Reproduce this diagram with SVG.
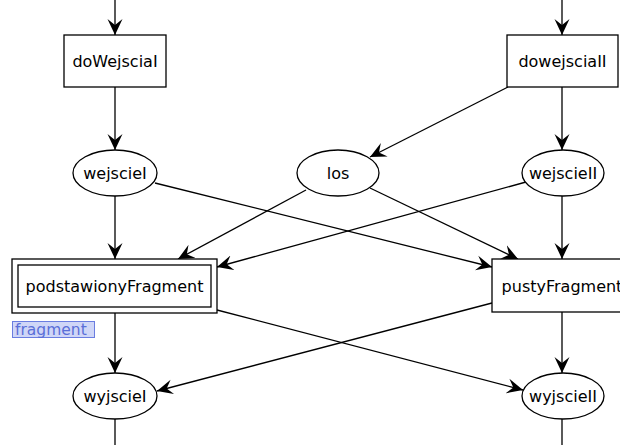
<svg xmlns="http://www.w3.org/2000/svg" width="620" height="445" viewBox="0 0 620 445">
  <style>
    .box { fill: #ffffff; stroke: #000000; stroke-width: 1.3; }
    .lbl { font-family: "DejaVu Sans", sans-serif; font-size: 16px; fill: #000000; text-anchor: middle; dominant-baseline: central; }
    .edge { fill: none; stroke: #000000; stroke-width: 1.3; marker-end: url(#vee); }
    .plain { fill: none; stroke: #000000; stroke-width: 1.3; }
    .tag { fill: #cfd6f7; stroke: #6a7de0; stroke-width: 1; }
    .tagtxt { font-family: "DejaVu Sans", sans-serif; font-size: 15.5px; fill: #5a6fd8; }
  </style>
  <defs>
    <marker id="vee" viewBox="-16 -8 17 16" refX="0" refY="0" markerWidth="17" markerHeight="16" markerUnits="userSpaceOnUse" orient="auto">
      <path d="M0,0 L-16,-7.5 L-10,0 L-16,7.5 Z" fill="#000000"/>
    </marker>
  </defs>
  <rect width="620" height="445" fill="#ffffff"/>

  <g id="connectors">
    <line class="edge" x1="115" y1="0" x2="115" y2="35"/>
    <line class="edge" x1="562" y1="0" x2="562" y2="35"/>
    <line class="edge" x1="115" y1="87" x2="115" y2="150"/>
    <line class="edge" x1="562" y1="87" x2="562" y2="150"/>
    <line class="edge" x1="508" y1="87" x2="370" y2="157"/>
    <line class="edge" x1="115" y1="196" x2="115" y2="259"/>
    <line class="edge" x1="155" y1="183" x2="492" y2="267"/>
    <line class="edge" x1="306" y1="190" x2="178" y2="259"/>
    <line class="edge" x1="370" y1="188" x2="518" y2="259"/>
    <line class="edge" x1="526" y1="182" x2="217" y2="267"/>
    <line class="edge" x1="562" y1="196" x2="562" y2="259"/>
    <line class="edge" x1="115" y1="313" x2="115" y2="373"/>
    <line class="edge" x1="217" y1="310" x2="523" y2="390"/>
    <line class="edge" x1="492" y1="303" x2="157" y2="391"/>
    <line class="edge" x1="562" y1="312" x2="562" y2="373"/>
    <line class="plain" x1="115" y1="419" x2="115" y2="445"/>
    <line class="plain" x1="562" y1="419" x2="562" y2="445"/>
  </g>

  <g id="doWejsciaI">
    <rect class="box" x="64" y="35" width="102" height="52"/>
    <text class="lbl" x="115" y="61">doWejsciaI</text>
  </g>
  <g id="dowejsciaII">
    <rect class="box" x="507" y="35" width="111" height="52"/>
    <text class="lbl" x="562.5" y="61">dowejsciaII</text>
  </g>

  <g id="wejscieI">
    <ellipse class="box" cx="115" cy="173" rx="42" ry="23"/>
    <text class="lbl" x="115" y="173">wejscieI</text>
  </g>
  <g id="los">
    <ellipse class="box" cx="338" cy="173" rx="41" ry="23"/>
    <text class="lbl" x="338" y="173">los</text>
  </g>
  <g id="wejscieII">
    <ellipse class="box" cx="563" cy="173" rx="41" ry="23"/>
    <text class="lbl" x="563" y="173">wejscieII</text>
  </g>

  <g id="podstawionyFragment">
    <rect class="box" x="12" y="259" width="205" height="54"/>
    <rect class="box" x="18" y="265" width="193" height="42"/>
    <text class="lbl" x="114.5" y="286">podstawionyFragment</text>
  </g>
  <g id="pustyFragment">
    <rect class="box" x="492" y="259" width="140" height="53"/>
    <text class="lbl" x="562" y="286">pustyFragment</text>
  </g>

  <g id="fragment">
    <rect class="tag" x="12.5" y="321.5" width="82" height="16"/>
    <text class="tagtxt" x="15" y="335">fragment</text>
  </g>

  <g id="wyjscieI">
    <ellipse class="box" cx="115" cy="396" rx="42" ry="23"/>
    <text class="lbl" x="115" y="396">wyjscieI</text>
  </g>
  <g id="wyjscieII">
    <ellipse class="box" cx="563" cy="396" rx="41" ry="23"/>
    <text class="lbl" x="563" y="396">wyjscieII</text>
  </g>
</svg>
